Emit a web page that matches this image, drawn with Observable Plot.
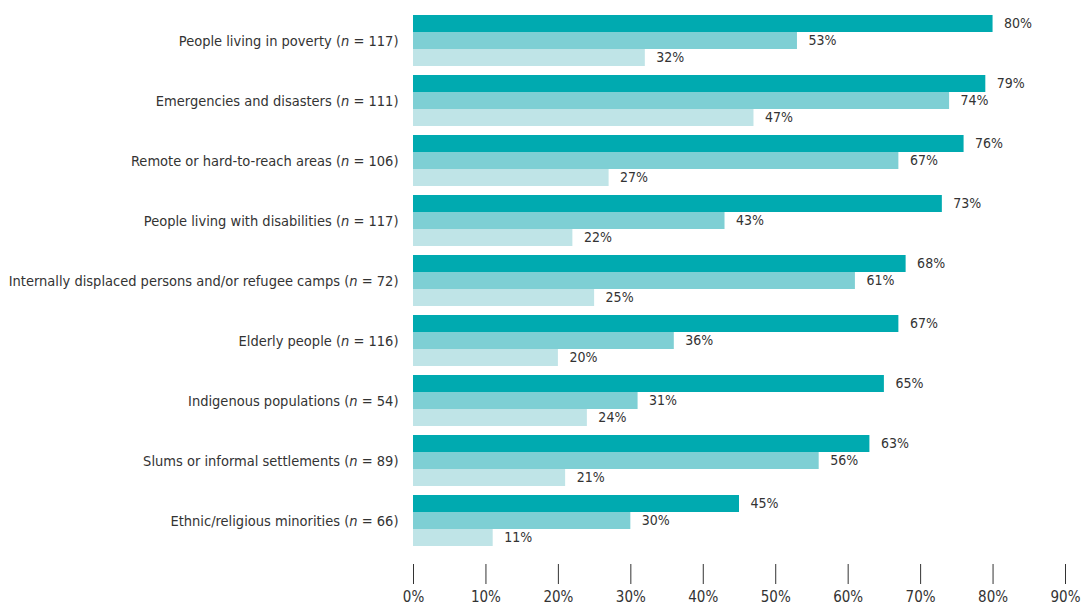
<!DOCTYPE html>
<html>
<head>
<meta charset="utf-8">
<script src="https://cdn.jsdelivr.net/npm/d3@7"></script>
<script src="https://cdn.jsdelivr.net/npm/@observablehq/plot@0.6"></script>
<style>
  html, body { margin: 0; padding: 0; background: #fff; }
  #chart svg { display: block; font-stretch: condensed; }
  #chart svg text { font-stretch: condensed; }
</style>
</head>
<body>
<div id="chart"></div>
<script>
const categories = [
  "People living in poverty",
  "Emergencies and disasters",
  "Remote or hard-to-reach areas",
  "People living with disabilities",
  "Internally displaced persons and/or refugee camps",
  "Elderly people",
  "Indigenous populations",
  "Slums or informal settlements",
  "Ethnic/religious minorities"
];
const nValues = [117, 111, 106, 117, 72, 116, 54, 89, 66];
const seriesNames = ["Series 1", "Series 2", "Series 3"];
const series1 = [80, 79, 76, 73, 68, 67, 65, 63, 45];
const series2 = [53, 74, 67, 43, 61, 36, 31, 56, 30];
const series3 = [32, 47, 27, 22, 25, 20, 24, 21, 11];
const seriesColors = ["#00aab0", "#7ecfd4", "#bfe4e7"];
const xTicks = [0, 10, 20, 30, 40, 50, 60, 70, 80, 90];

const labelOf = categories.map((c, i) => `${c} (n = ${nValues[i]})`);
const rows = [];
categories.forEach((c, i) => {
  [series1, series2, series3].forEach((s, j) => {
    rows.push({cat: labelOf[i], series: seriesNames[j], value: s[i]});
  });
});

const font = "'DejaVu Sans Condensed', 'DejaVu Sans', sans-serif";

const chart = Plot.plot({
  width: 1083,
  height: 608,
  marginLeft: 413,
  marginRight: 18,
  marginTop: 14,
  marginBottom: 61,
  style: {fontFamily: font, fontSize: "14.5px", color: "#333", background: "#fff"},
  facet: {data: rows, y: "cat"},
  fy: {
    domain: labelOf,
    paddingInner: 0.15,
    paddingOuter: 0,
    axis: "left",
    tickSize: 0,
    tickPadding: 15,
    label: null
  },
  y: {domain: seriesNames, padding: 0, axis: null},
  x: {domain: [0, 90], axis: null},
  color: {domain: seriesNames, range: seriesColors},
  marks: [
    Plot.barX(rows, {x: "value", y: "series", fill: "series"}),
    Plot.text(rows, {
      x: "value", y: "series", text: d => `${d.value}%`,
      textAnchor: "start", dx: 11, fontSize: 14, fill: "#333"
    }),
    Plot.axisX({
      ticks: xTicks, anchor: "bottom", tickSize: 20, tickPadding: 7,
      tickFormat: d => `${d}%`, fontSize: 15, label: null, stroke: "#333",
      facetAnchor: "bottom", dy: 18
    })
  ]
});

// italicize the "n" in each category label
chart.querySelectorAll("text").forEach(t => {
  const s = t.textContent;
  const m = s.match(/^(.*\()n( = \d+\))$/);
  if (m && t.children.length === 0) {
    t.textContent = "";
    const a = document.createElementNS("http://www.w3.org/2000/svg", "tspan");
    a.textContent = m[1];
    const b = document.createElementNS("http://www.w3.org/2000/svg", "tspan");
    b.textContent = "n";
    b.setAttribute("font-style", "italic");
    const c = document.createElementNS("http://www.w3.org/2000/svg", "tspan");
    c.textContent = m[2];
    t.append(a, b, c);
  }
});

document.getElementById("chart").append(chart);
</script>
</body>
</html>
